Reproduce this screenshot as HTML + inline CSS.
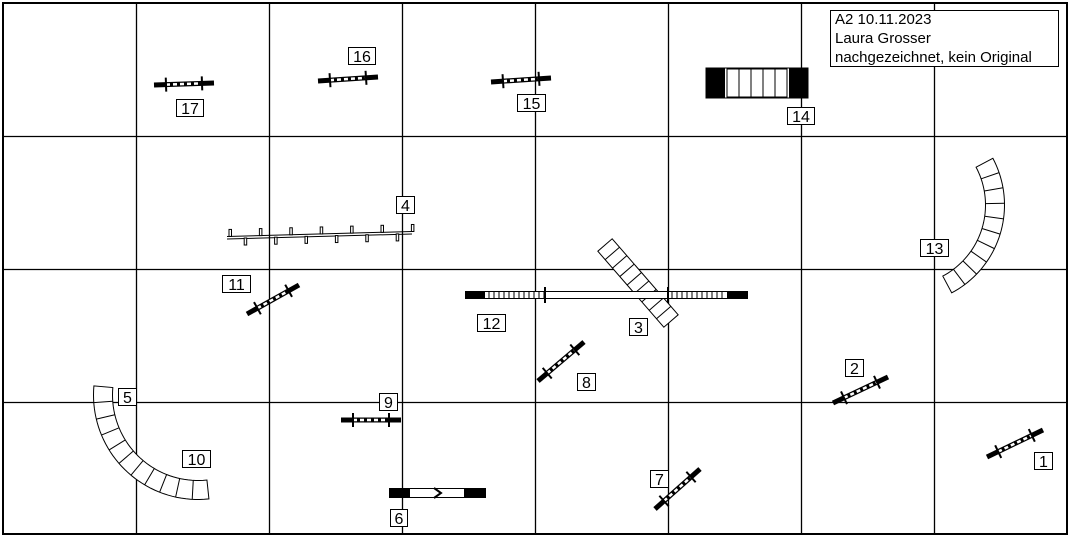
<!DOCTYPE html>
<html><head><meta charset="utf-8"><style>
html,body{margin:0;padding:0;background:#fff;}
svg{display:block;}
text{font-family:"Liberation Sans",Arial,sans-serif;}
</style></head><body>
<svg id="s" width="1071" height="538" viewBox="0 0 1071 538" xmlns="http://www.w3.org/2000/svg">
<rect x="0" y="0" width="1071" height="538" fill="#fff"/>
<g stroke="#000" stroke-width="1.3" fill="none">
<line x1="136.5" y1="3" x2="136.5" y2="534"/><line x1="269.5" y1="3" x2="269.5" y2="534"/>
<line x1="402.5" y1="3" x2="402.5" y2="534"/><line x1="535.5" y1="3" x2="535.5" y2="534"/>
<line x1="668.5" y1="3" x2="668.5" y2="534"/><line x1="801.5" y1="3" x2="801.5" y2="534"/>
<line x1="934.5" y1="3" x2="934.5" y2="534"/>
<line x1="3" y1="136.5" x2="1067" y2="136.5"/><line x1="3" y1="269.5" x2="1067" y2="269.5"/>
<line x1="3" y1="402.5" x2="1067" y2="402.5"/>
</g>
<rect x="3" y="3" width="1064" height="531" fill="none" stroke="#000" stroke-width="2"/>
<g id="dyn"></g>
<g id="labels" font-size="15" fill="#000">
<rect x="830.5" y="10.5" width="228" height="56" fill="#fff" stroke="#000"/>
<text x="835" y="24">A2 10.11.2023</text>
<text x="835" y="43">Laura Grosser</text>
<text x="835" y="62">nachgezeichnet, kein Original</text>
</g>
</svg>
<script>
var NS="http://www.w3.org/2000/svg",g=document.getElementById('dyn'),L=document.getElementById('labels');
function el(t,a,p){var e=document.createElementNS(NS,t);for(var k in a)e.setAttribute(k,a[k]);(p||g).appendChild(e);return e;}
function line(x1,y1,x2,y2,w,c,extra){var a={x1:x1,y1:y1,x2:x2,y2:y2,stroke:c||'#000','stroke-width':w};if(extra)for(var k in extra)a[k]=extra[k];return el('line',a);}
function jump(x1,y1,x2,y2){
 var dx=x2-x1,dy=y2-y1,l=Math.hypot(dx,dy),ux=dx/l,uy=dy/l,nx=-uy,ny=ux;
 line(x1,y1,x2,y2,5);
 var a=0.2,b=0.8;
 line(x1+dx*a,y1+dy*a,x1+dx*b,y1+dy*b,2.5,'#fff',{'stroke-dasharray':'4 3'});
 [a,b].forEach(function(t){var cx=x1+dx*t,cy=y1+dy*t;line(cx-nx*7,cy-ny*7,cx+nx*7,cy+ny*7,2);});
}
jump(154,85,214,83);jump(318,81,378,77);jump(491,82,551,78);
jump(247,314,299,285);jump(538,381,584,342);jump(341,420,401,420);
jump(833,403,888,377);jump(987,457,1043,430);jump(655,509,700,469);
function tunnelStraight(x1,y1,x2,y2,w,n){
 var dx=x2-x1,dy=y2-y1,l=Math.hypot(dx,dy),nx=-dy/l*w/2,ny=dx/l*w/2;
 el('polygon',{points:[x1+nx,y1+ny,x2+nx,y2+ny,x2-nx,y2-ny,x1-nx,y1-ny].join(' '),fill:'#fff',stroke:'#000','stroke-width':1});
 for(var i=1;i<n;i++){var t=i/n,cx=x1+dx*t,cy=y1+dy*t;line(cx+nx,cy+ny,cx-nx,cy-ny,1);}
}
function tunnelArc(cx,cy,r,a1,a2,w,n){
 var pts=[],pts2=[],N=40;
 for(var i=0;i<=N;i++){var a=(a1+(a2-a1)*i/N)*Math.PI/180;pts.push((cx+(r+w/2)*Math.cos(a))+','+(cy+(r+w/2)*Math.sin(a)));pts2.unshift((cx+(r-w/2)*Math.cos(a))+','+(cy+(r-w/2)*Math.sin(a)));}
 el('polygon',{points:pts.concat(pts2).join(' '),fill:'#fff',stroke:'#000','stroke-width':1});
 for(var i=1;i<n;i++){var a=(a1+(a2-a1)*i/n)*Math.PI/180;line(cx+(r+w/2)*Math.cos(a),cy+(r+w/2)*Math.sin(a),cx+(r-w/2)*Math.cos(a),cy+(r-w/2)*Math.sin(a),1);}
}
tunnelStraight(605,245,671,321,19,9);
tunnelArc(198,395,95,185,84,19,11);
tunnelArc(905,205,90,-28,62,19,10);
// dogwalk 12
el('rect',{x:465.5,y:291.5,width:282,height:7,fill:'#fff',stroke:'#000','stroke-width':1});
el('rect',{x:465,y:291,width:20,height:8,fill:'#000'});
el('rect',{x:727,y:291,width:20,height:8,fill:'#000'});
for(var x=489;x<545;x+=5)line(x,292,x,298,1);
for(var x=672;x<727;x+=5)line(x,292,x,298,1);
line(545,287,545,303,2);line(668,287,668,303,2);
// tunnel 14
el('rect',{x:706,y:68,width:102,height:30,fill:'#fff',stroke:'#000'});
el('rect',{x:706,y:68,width:19,height:30,fill:'#000'});
el('rect',{x:789,y:68,width:19,height:30,fill:'#000'});
el('rect',{x:727,y:69,width:60,height:28,fill:'none',stroke:'#000','stroke-width':1});
for(var x=739;x<787;x+=12)line(x,69,x,97,1);
// tire 6
el('rect',{x:389.5,y:488.5,width:96,height:9,fill:'#fff',stroke:'#000'});
el('rect',{x:389,y:488,width:21,height:10,fill:'#000'});
el('rect',{x:464,y:488,width:22,height:10,fill:'#000'});
el('polyline',{points:'434,488 441,493 434,498',fill:'none',stroke:'#000','stroke-width':2});
// weave 4
line(227,236.5,412,231.5,1);line(227,239,412,234,1);
for(var i=0;i<13;i++){var x=230+i*15.2,y=236.5-(x-227)*5/185;var up=(i%2==0);
 if(up)el('rect',{x:x-1,y:y-7,width:2.5,height:7,fill:'#fff',stroke:'#000','stroke-width':1});
 else el('rect',{x:x-1,y:y+2,width:2.5,height:7,fill:'#fff',stroke:'#000','stroke-width':1});}
// labels
var labs=[['16',348,47,27],['17',176,99,27],['15',517,94,28],['14',787,107,27],['4',396,196,18],['13',920,239,28],['11',222,275,28],['12',477,314,28],['3',629,318,18],['8',577,373,18],['2',845,359,18],['5',118,388,18],['9',379,393,18],['10',182,450,28],['1',1034,452,18],['7',650,470,18],['6',390,509,17]];
labs.forEach(function(l){el('rect',{x:l[1]+.5,y:l[2]+.5,width:l[3],height:17,fill:'#fff',stroke:'#000','stroke-width':1},L);
 var t=el('text',{x:l[1]+.5+l[3]/2,y:l[2]+15,'text-anchor':'middle','font-size':16},L);t.textContent=l[0];});
</script>
</body></html>
